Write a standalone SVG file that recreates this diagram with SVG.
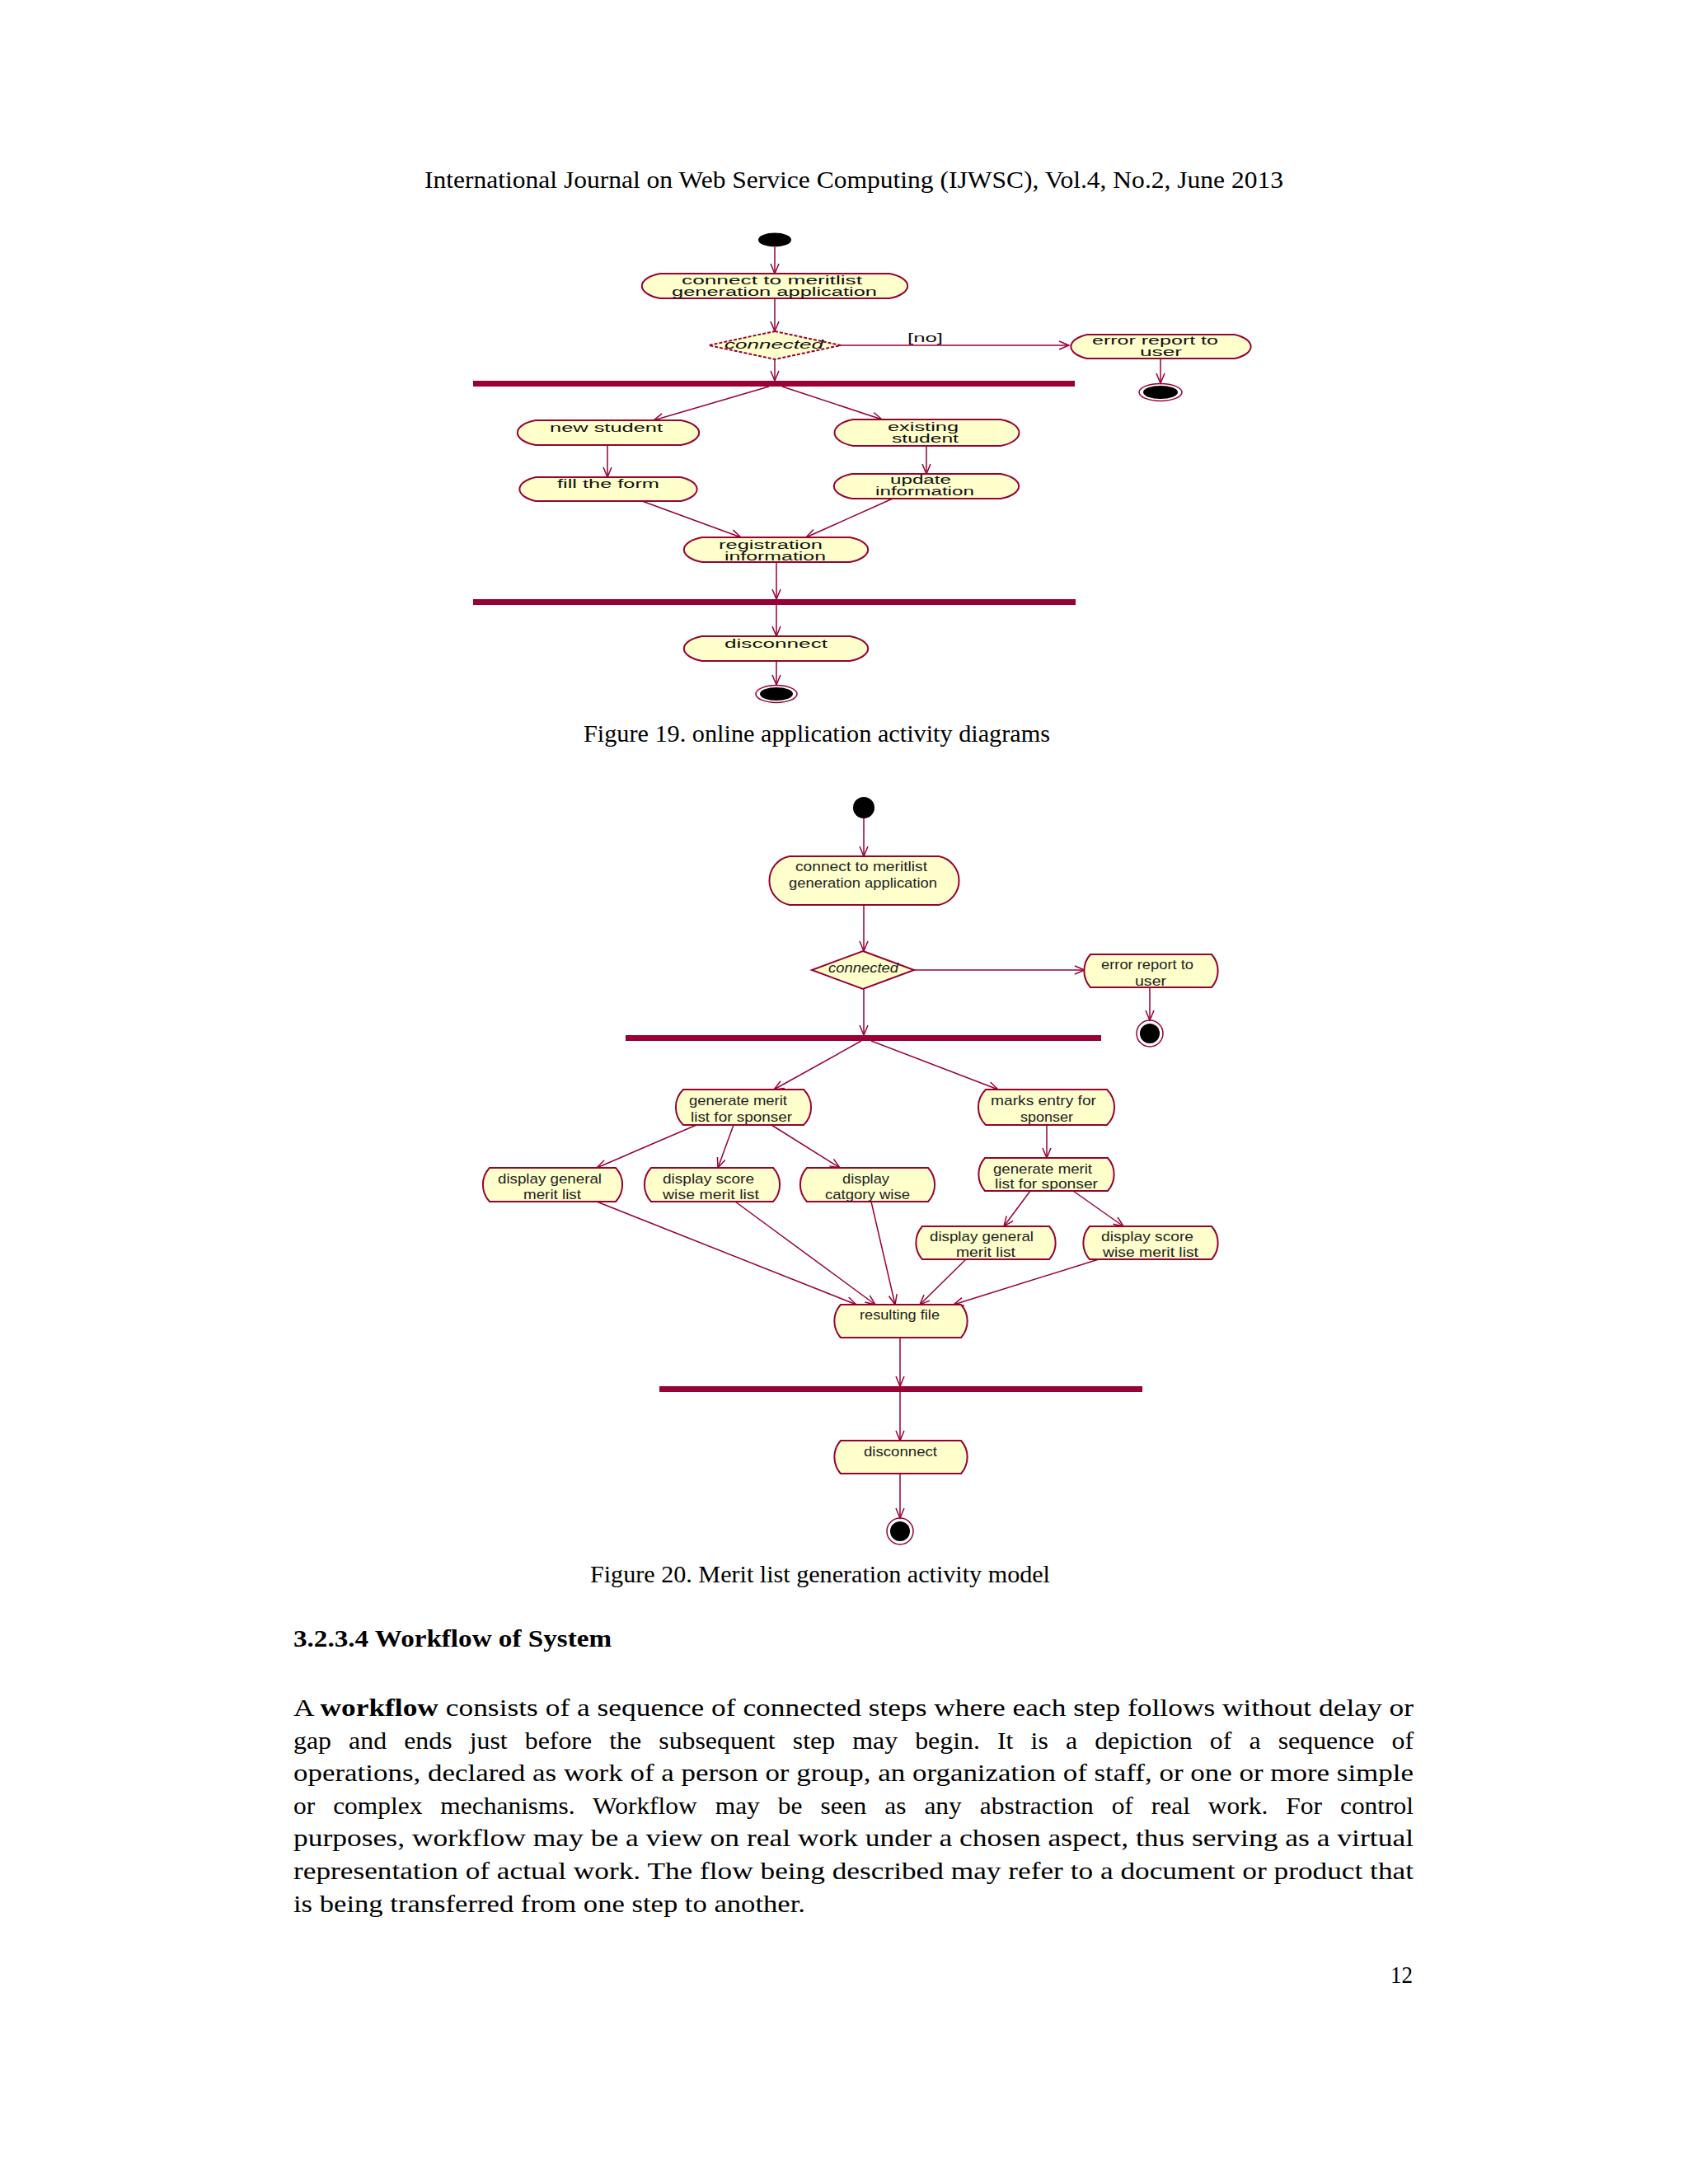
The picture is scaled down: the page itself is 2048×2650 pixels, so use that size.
<svg xmlns="http://www.w3.org/2000/svg" width="2048" height="2650" viewBox="0 0 2048 2650">
<defs>
<marker id="ar" markerUnits="userSpaceOnUse" markerWidth="14" markerHeight="12" refX="12" refY="5" orient="auto" overflow="visible">
<path d="M0,0 L12,5 L0,10" fill="none" stroke="#990033" stroke-width="1.5"/>
</marker>
<style>
.pg{font-family:"Liberation Serif","Times New Roman",serif;font-size:29px;fill:#000}
.n{fill:#ffffcc;stroke:#990033;stroke-width:2}
.bar{fill:#990033}
.c{fill:none;stroke:#990033;stroke-width:1.5;marker-end:url(#ar)}
.t19{font-family:"Liberation Sans",Arial,sans-serif;font-size:14px;fill:#111}
.t20{font-family:"Liberation Sans",Arial,sans-serif;font-size:17px;fill:#222}
.it{font-style:italic}
.blk{fill:#000}
.ring{fill:none;stroke:#990033;stroke-width:1.5}
</style>
</defs>
<rect width="2048" height="2650" fill="#fff"/>

<text class="pg" x="515" y="228" textLength="1042" lengthAdjust="spacingAndGlyphs">International Journal on Web Service Computing (IJWSC), Vol.4, No.2, June 2013</text>

<!-- Figure 19 -->
<g id="connectors19">
<path class="c" d="M940,300 V332"/>
<path class="c" d="M940,362 V402"/>
<path class="c" d="M1020,419 H1297"/>
<path class="c" d="M1408,435 V465"/>
<path class="c" d="M940,436 V462"/>
<path class="c" d="M933,469 L793,510"/>
<path class="c" d="M949,469 L1070,509"/>
<path class="c" d="M737,540 V579"/>
<path class="c" d="M1124,541 V575"/>
<path class="c" d="M779,608 L899,652"/>
<path class="c" d="M1083,605 L978,652"/>
<path class="c" d="M942,682 V727"/>
<path class="c" d="M942,734 V772"/>
<path class="c" d="M942,802 V831"/>
<text class="t19" x="1101" y="415" textLength="43" lengthAdjust="spacingAndGlyphs">[no]</text>
</g>
<g id="f19-start"><ellipse class="blk" cx="940" cy="291" rx="20" ry="8.5"/></g>
<g id="f19-connect"><path class="n" d="M801,332 H1079 A34,16 0 0 1 1079,362 H801 A34,16 0 0 1 801,332 Z"/>
<text class="t19" x="827" y="345" textLength="219" lengthAdjust="spacingAndGlyphs">connect to meritlist</text>
<text class="t19" x="815" y="359" textLength="249" lengthAdjust="spacingAndGlyphs">generation application</text></g>
<g id="f19-decision"><path class="n" d="M940,402 L1020,419 L940,436 L860,419 Z" stroke-dasharray="4 2"/>
<text class="t19 it" x="879" y="423" textLength="120" lengthAdjust="spacingAndGlyphs">connected</text></g>
<g id="f19-error"><path class="n" d="M1319,406 H1498 A34,16 0 0 1 1498,435 H1319 A34,16 0 0 1 1319,406 Z"/>
<text class="t19" x="1325" y="418" textLength="153" lengthAdjust="spacingAndGlyphs">error report to</text>
<text class="t19" x="1383" y="432" textLength="51" lengthAdjust="spacingAndGlyphs">user</text></g>
<g id="f19-end1"><ellipse class="ring" cx="1408" cy="476" rx="26" ry="10.5"/><ellipse class="blk" cx="1408" cy="476" rx="21" ry="8"/></g>
<g id="f19-fork"><rect class="bar" x="574" y="462" width="730" height="7"/></g>
<g id="f19-new"><path class="n" d="M650,510 H826 A34,16 0 0 1 826,540 H650 A34,16 0 0 1 650,510 Z"/>
<text class="t19" x="667" y="524" textLength="137" lengthAdjust="spacingAndGlyphs">new student</text></g>
<g id="f19-existing"><path class="n" d="M1035,509 H1214 A34,17 0 0 1 1214,541 H1035 A34,17 0 0 1 1035,509 Z"/>
<text class="t19" x="1077" y="523" textLength="86" lengthAdjust="spacingAndGlyphs">existing</text>
<text class="t19" x="1082" y="537" textLength="81" lengthAdjust="spacingAndGlyphs">student</text></g>
<g id="f19-fill"><path class="n" d="M650,579 H826 A34,16 0 0 1 826,608 H650 A34,16 0 0 1 650,579 Z"/>
<text class="t19" x="676" y="592" textLength="124" lengthAdjust="spacingAndGlyphs">fill the form</text></g>
<g id="f19-update"><path class="n" d="M1034,575 H1214 A34,16 0 0 1 1214,605 H1034 A34,16 0 0 1 1034,575 Z"/>
<text class="t19" x="1080" y="587" textLength="74" lengthAdjust="spacingAndGlyphs">update</text>
<text class="t19" x="1062" y="601" textLength="120" lengthAdjust="spacingAndGlyphs">information</text></g>
<g id="f19-registration"><path class="n" d="M852,652 H1031 A34,16 0 0 1 1031,682 H852 A34,16 0 0 1 852,652 Z"/>
<text class="t19" x="872" y="666" textLength="126" lengthAdjust="spacingAndGlyphs">registration</text>
<text class="t19" x="879" y="680" textLength="123" lengthAdjust="spacingAndGlyphs">information</text></g>
<g id="f19-join"><rect class="bar" x="574" y="727" width="731" height="7"/></g>
<g id="f19-disconnect"><path class="n" d="M852,772 H1031 A34,16 0 0 1 1031,802 H852 A34,16 0 0 1 852,772 Z"/>
<text class="t19" x="879" y="786" textLength="125" lengthAdjust="spacingAndGlyphs">disconnect</text></g>
<g id="f19-end2"><ellipse class="ring" cx="942" cy="842" rx="25" ry="10.5"/><ellipse class="blk" cx="942" cy="842" rx="20" ry="8"/></g>

<text class="pg" x="708" y="900" textLength="566" lengthAdjust="spacingAndGlyphs">Figure 19. online application activity diagrams</text>

<!-- Figure 20 -->
<g id="connectors20">
<path class="c" d="M1048,993 V1039"/>
<path class="c" d="M1048,1098 V1154"/>
<path class="c" d="M1109,1177 H1316"/>
<path class="c" d="M1395,1198 V1238"/>
<path class="c" d="M1048,1200 V1256"/>
<path class="c" d="M1045,1263 L939,1322"/>
<path class="c" d="M1057,1263 L1211,1322"/>
<path class="c" d="M845,1365 L724,1417"/>
<path class="c" d="M890,1365 L871,1417"/>
<path class="c" d="M936,1365 L1019,1417"/>
<path class="c" d="M1270,1365 V1405"/>
<path class="c" d="M1250,1445 L1218,1488"/>
<path class="c" d="M1302,1445 L1363,1488"/>
<path class="c" d="M724,1458 L1039,1583"/>
<path class="c" d="M892,1458 L1062,1583"/>
<path class="c" d="M1057,1458 L1086,1583"/>
<path class="c" d="M1172,1528 L1116,1583"/>
<path class="c" d="M1333,1528 L1157,1583"/>
<path class="c" d="M1092,1623 V1682"/>
<path class="c" d="M1092,1689 V1748"/>
<path class="c" d="M1092,1788 V1842"/>
</g>
<g id="f20-start"><circle class="blk" cx="1048" cy="980" r="13"/></g>
<g id="f20-connect"><path class="n" d="M958,1039 H1139 A30,30 0 0 1 1139,1098 H958 A30,30 0 0 1 958,1039 Z"/>
<text class="t20" x="965" y="1057" textLength="160" lengthAdjust="spacingAndGlyphs">connect to meritlist</text>
<text class="t20" x="957" y="1077" textLength="180" lengthAdjust="spacingAndGlyphs">generation application</text></g>
<g id="f20-decision"><path class="n" d="M1047,1154 L1109,1177 L1047,1200 L985,1177 Z"/>
<text class="t20 it" x="1005" y="1180" textLength="85" lengthAdjust="spacingAndGlyphs">connected</text></g>
<g id="f20-error"><path class="n" d="M1323,1158 H1470 A30,30 0 0 1 1470,1198 H1323 A30,30 0 0 1 1323,1158 Z"/>
<text class="t20" x="1336" y="1176" textLength="112" lengthAdjust="spacingAndGlyphs">error report to</text>
<text class="t20" x="1377" y="1196" textLength="38" lengthAdjust="spacingAndGlyphs">user</text></g>
<g id="f20-end1"><circle class="ring" cx="1395" cy="1254" r="16"/><circle class="blk" cx="1395" cy="1254" r="12"/></g>
<g id="f20-fork"><rect class="bar" x="759" y="1256" width="577" height="7"/></g>
<g id="f20-genL"><path class="n" d="M829,1322 H975 A30,30 0 0 1 975,1365 H829 A30,30 0 0 1 829,1322 Z"/>
<text class="t20" x="836" y="1341" textLength="119" lengthAdjust="spacingAndGlyphs">generate merit</text>
<text class="t20" x="838" y="1361" textLength="123" lengthAdjust="spacingAndGlyphs">list for sponser</text></g>
<g id="f20-marks"><path class="n" d="M1196,1322 H1343 A30,30 0 0 1 1343,1365 H1196 A30,30 0 0 1 1196,1322 Z"/>
<text class="t20" x="1202" y="1341" textLength="128" lengthAdjust="spacingAndGlyphs">marks entry for</text>
<text class="t20" x="1238" y="1361" textLength="64" lengthAdjust="spacingAndGlyphs">sponser</text></g>
<g id="f20-dgL"><path class="n" d="M594,1417 H747 A30,30 0 0 1 747,1458 H594 A30,30 0 0 1 594,1417 Z"/>
<text class="t20" x="604" y="1436" textLength="126" lengthAdjust="spacingAndGlyphs">display general</text>
<text class="t20" x="635" y="1455" textLength="70" lengthAdjust="spacingAndGlyphs">merit list</text></g>
<g id="f20-dsL"><path class="n" d="M790,1417 H938 A30,30 0 0 1 938,1458 H790 A30,30 0 0 1 790,1417 Z"/>
<text class="t20" x="804" y="1436" textLength="111" lengthAdjust="spacingAndGlyphs">display score</text>
<text class="t20" x="804" y="1455" textLength="117" lengthAdjust="spacingAndGlyphs">wise merit list</text></g>
<g id="f20-dcat"><path class="n" d="M979,1417 H1126 A30,30 0 0 1 1126,1458 H979 A30,30 0 0 1 979,1417 Z"/>
<text class="t20" x="1022" y="1436" textLength="57" lengthAdjust="spacingAndGlyphs">display</text>
<text class="t20" x="1001" y="1455" textLength="103" lengthAdjust="spacingAndGlyphs">catgory wise</text></g>
<g id="f20-genR"><path class="n" d="M1195,1405 H1344 A30,30 0 0 1 1344,1445 H1195 A30,30 0 0 1 1195,1405 Z"/>
<text class="t20" x="1205" y="1424" textLength="120" lengthAdjust="spacingAndGlyphs">generate merit</text>
<text class="t20" x="1207" y="1442" textLength="125" lengthAdjust="spacingAndGlyphs">list for sponser</text></g>
<g id="f20-dgR"><path class="n" d="M1119,1488 H1273 A30,30 0 0 1 1273,1528 H1119 A30,30 0 0 1 1119,1488 Z"/>
<text class="t20" x="1128" y="1506" textLength="126" lengthAdjust="spacingAndGlyphs">display general</text>
<text class="t20" x="1160" y="1525" textLength="72" lengthAdjust="spacingAndGlyphs">merit list</text></g>
<g id="f20-dsR"><path class="n" d="M1322,1488 H1470 A30,30 0 0 1 1470,1528 H1322 A30,30 0 0 1 1322,1488 Z"/>
<text class="t20" x="1336" y="1506" textLength="112" lengthAdjust="spacingAndGlyphs">display score</text>
<text class="t20" x="1338" y="1525" textLength="116" lengthAdjust="spacingAndGlyphs">wise merit list</text></g>
<g id="f20-result"><path class="n" d="M1020,1583 H1166 A30,30 0 0 1 1166,1623 H1020 A30,30 0 0 1 1020,1583 Z"/>
<text class="t20" x="1043" y="1601" textLength="97" lengthAdjust="spacingAndGlyphs">resulting file</text></g>
<g id="f20-join"><rect class="bar" x="800" y="1682" width="586" height="7"/></g>
<g id="f20-disconnect"><path class="n" d="M1020,1748 H1166 A30,30 0 0 1 1166,1788 H1020 A30,30 0 0 1 1020,1748 Z"/>
<text class="t20" x="1048" y="1767" textLength="89" lengthAdjust="spacingAndGlyphs">disconnect</text></g>
<g id="f20-end2"><circle class="ring" cx="1092" cy="1858" r="16"/><circle class="blk" cx="1092" cy="1858" r="12"/></g>

<text class="pg" x="716" y="1920" textLength="558" lengthAdjust="spacingAndGlyphs">Figure 20. Merit list generation activity model</text>

<text class="pg" x="356" y="1998" font-weight="bold" textLength="386" lengthAdjust="spacingAndGlyphs">3.2.3.4 Workflow of System</text>

<text class="pg" x="356" y="2082" textLength="1359" lengthAdjust="spacingAndGlyphs">A <tspan font-weight="bold">workflow</tspan> consists of a sequence of connected steps where each step follows without delay or</text>
<text class="pg" x="356" y="2122" word-spacing="12" textLength="1359" lengthAdjust="spacingAndGlyphs">gap and ends just before the subsequent step may begin. It is a depiction of a sequence of</text>
<text class="pg" x="356" y="2161" textLength="1359" lengthAdjust="spacingAndGlyphs">operations, declared as work of a person or group, an organization of staff, or one or more simple</text>
<text class="pg" x="356" y="2201" word-spacing="13" textLength="1359" lengthAdjust="spacingAndGlyphs">or complex mechanisms. Workflow may be seen as any abstraction of real work. For control</text>
<text class="pg" x="356" y="2240" textLength="1359" lengthAdjust="spacingAndGlyphs">purposes, workflow may be a view on real work under a chosen aspect, thus serving as a virtual</text>
<text class="pg" x="356" y="2280" textLength="1359" lengthAdjust="spacingAndGlyphs">representation of actual work. The flow being described may refer to a document or product that</text>
<text class="pg" x="356" y="2320" textLength="621" lengthAdjust="spacingAndGlyphs">is being transferred from one step to another.</text>

<text class="pg" x="1687" y="2406" textLength="27" lengthAdjust="spacingAndGlyphs">12</text>
</svg>
